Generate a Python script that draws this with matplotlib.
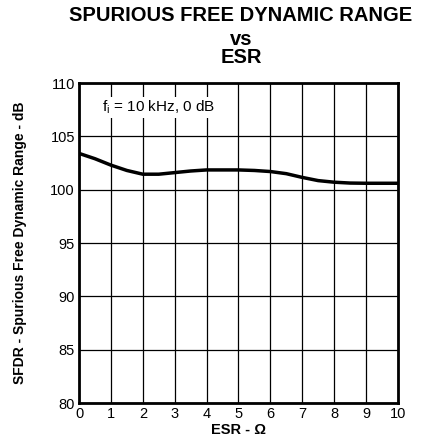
import matplotlib
matplotlib.use('Agg')
import matplotlib.pyplot as plt

plt.rcParams['font.family'] = ['Liberation Sans', 'DejaVu Sans']

# ESR (ohm) e SFDR (dB)
esr = [0, 0.5, 1, 1.5, 2, 2.5, 3, 3.5, 4, 4.5, 5, 5.5, 6, 6.5, 7, 7.5, 8, 8.5, 9, 9.5, 10]
sfdr = [103.4, 102.9, 102.3, 101.8, 101.45, 101.45, 101.6, 101.75, 101.85, 101.85,
        101.85, 101.8, 101.7, 101.5, 101.15, 100.85, 100.7, 100.62, 100.6, 100.6, 100.6]

xticks = list(range(0, 11))
yticks = [80, 85, 90, 95, 100, 105, 110]

fig = plt.figure(figsize=(4.32, 4.46), dpi=100)
ax = fig.add_axes([0.183, 0.0964, 0.738, 0.7175])

ax.plot(esr, sfdr, color='black', linewidth=2.5)

ax.set_xlim(0, 10)
ax.set_ylim(80, 110)
ax.set_xticks(xticks)
ax.set_yticks(yticks)
ax.grid(True, color='black', linewidth=0.9)
ax.tick_params(axis='both', length=0, labelsize=10.5, pad=3)
for s in ax.spines.values():
    s.set_linewidth(2)

ax.text(0.72, 107.7, r'f$_\mathregular{i}$ = 10 kHz, 0 dB', fontsize=11,
        va='center', ha='left',
        bbox=dict(facecolor='white', edgecolor='none', pad=1))

ax.set_xlabel('ESR - Ω', fontsize=10.5, fontweight='bold', labelpad=1)
ax.set_ylabel('SFDR - Spurious Free Dynamic Range - dB', fontsize=10,
              fontweight='bold')
ax.yaxis.set_label_coords(-0.163, 0.5)

fig.text(0.558, 0.965, 'SPURIOUS FREE DYNAMIC RANGE', ha='center', va='center',
         fontsize=14.5, fontweight='bold')
fig.text(0.558, 0.912, 'vs', ha='center', va='center', fontsize=14.5, fontweight='bold')
fig.text(0.558, 0.871, 'ESR', ha='center', va='center', fontsize=14.5, fontweight='bold')

plt.savefig('out.png', dpi=100)
